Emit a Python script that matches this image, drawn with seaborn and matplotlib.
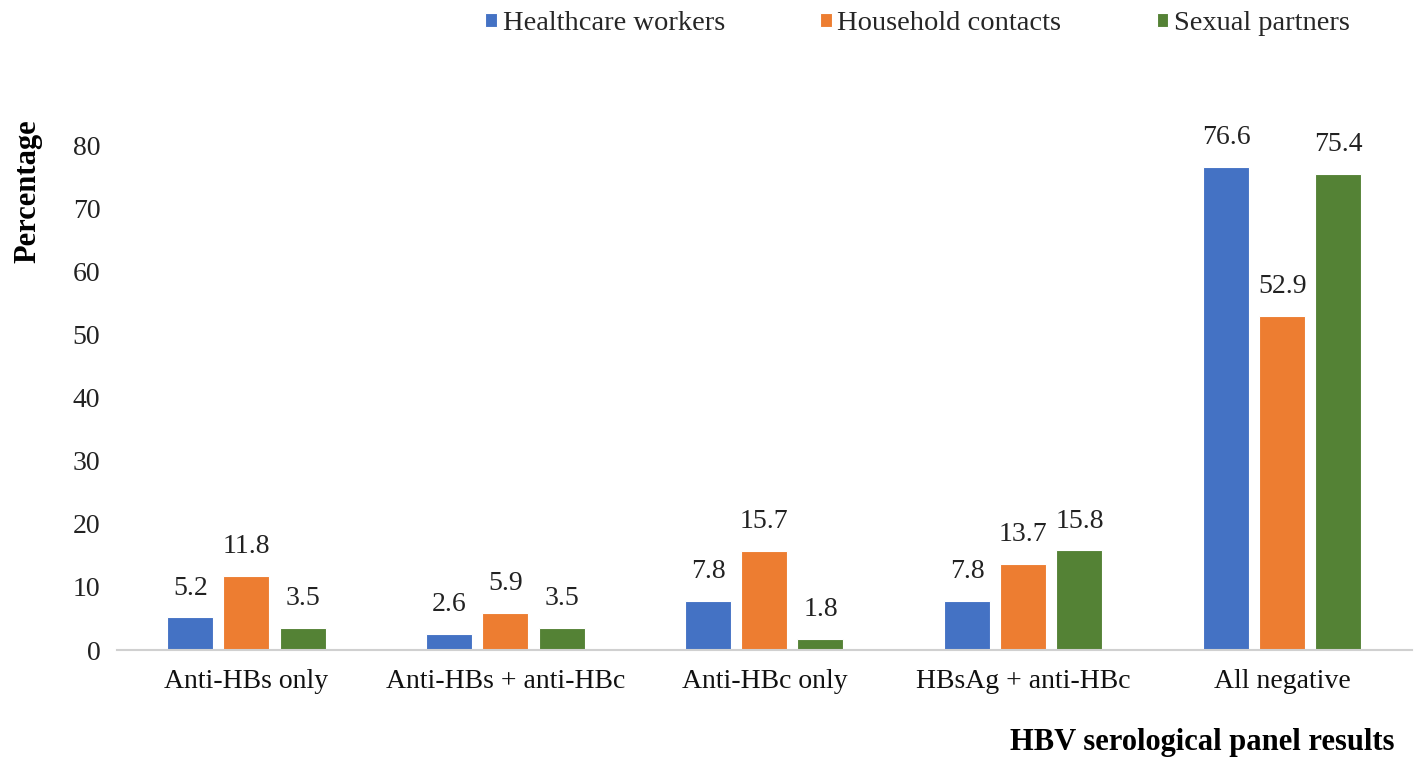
import matplotlib
matplotlib.use("Agg")
import matplotlib.pyplot as plt
import seaborn as sns
import pandas as pd

categories = ["Anti-HBs only", "Anti-HBs + anti-HBc", "Anti-HBc only",
              "HBsAg + anti-HBc", "All negative"]
groups = ["Healthcare workers", "Household contacts", "Sexual partners"]
healthcare_workers = [5.2, 2.6, 7.8, 7.8, 76.6]
household_contacts = [11.8, 5.9, 15.7, 13.7, 52.9]
sexual_partners = [3.5, 3.5, 1.8, 15.8, 75.4]
y_ticks = [0, 10, 20, 30, 40, 50, 60, 70, 80]

colors = ["#4472C4", "#ED7D31", "#548235"]

df = pd.DataFrame({
    "Result": categories * 3,
    "Group": [g for g in groups for _ in categories],
    "Percentage": healthcare_workers + household_contacts + sexual_partners,
})

sns.set_theme(style="white")
plt.rcParams["font.family"] = ["Liberation Serif", "DejaVu Serif"]

fig = plt.figure(figsize=(14.16, 7.59), dpi=100)
ax = fig.add_axes([0.0826, 0.1436, 0.9144, 0.7484])

sns.barplot(data=df, x="Result", y="Percentage", hue="Group",
            order=categories, hue_order=groups, palette=colors,
            saturation=1, width=0.65, gap=0.18, edgecolor="white",
            linewidth=0.8, ax=ax, errorbar=None)

for cont in ax.containers:
    ax.bar_label(cont, fmt="%.1f", padding=12, fontsize=20, color="#222222")

ax.set_ylim(0, 90)
ax.set_xlim(-0.5, 4.5)
ax.set_yticks(y_ticks)
ax.tick_params(axis="y", length=0, pad=12, labelsize=20, labelcolor="#222222")
ax.tick_params(axis="x", length=0, pad=14, labelsize=20, labelcolor="#111111")

for side in ["top", "right", "left"]:
    ax.spines[side].set_visible(False)
ax.spines["bottom"].set_color("#D0D0D0")
ax.spines["bottom"].set_linewidth(1.5)

ax.set_ylabel("Percentage", fontsize=22, fontweight="bold", color="black")
ax.yaxis.label.set_va("center")
ax.yaxis.set_label_coords(-0.069, 0.808)

ax.set_xlabel("HBV serological panel results", fontsize=22,
              fontweight="bold", color="black")
ax.xaxis.label.set_ha("right")
ax.xaxis.label.set_va("center")
ax.xaxis.set_label_coords(0.987, -0.162)

sns.move_legend(ax, "upper center", bbox_to_anchor=(0.648, 1.008),
                bbox_transform=fig.transFigure, ncol=3, frameon=False,
                title=None, fontsize=20.5, handlelength=0.4,
                handleheight=0.4, handletextpad=0.2, columnspacing=3.35,
                borderaxespad=0.2)

fig.savefig("out.png", dpi=100)
